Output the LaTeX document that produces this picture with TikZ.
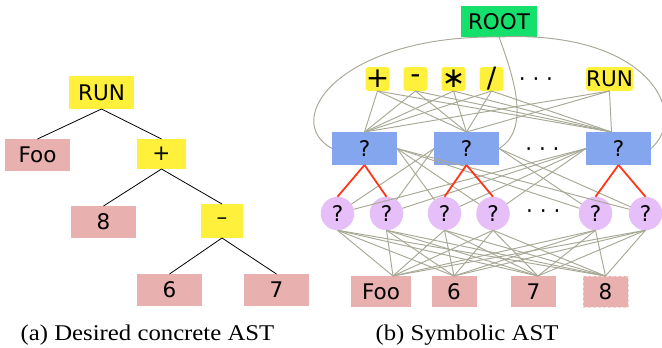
\documentclass[tikz,border=0pt]{standalone}
\usepackage{fontspec}
\setmainfont{DejaVu Sans}
\newfontfamily\capfont{Liberation Serif}[FakeStretch=1.1]
\newcommand\mynfont{\fontsize{21.5}{25}\selectfont}
\newcommand\myopfont{\fontsize{28}{32}\selectfont}
\newcommand\mycapfont{\capfont\fontsize{22.5}{26}\selectfont}
\definecolor{cyel}{RGB}{255,240,60}
\definecolor{cpink}{RGB}{233,176,176}
\definecolor{cblue}{RGB}{132,166,238}
\definecolor{cpurp}{RGB}{230,190,248}
\definecolor{cgreen}{RGB}{22,224,108}
\definecolor{cgray}{RGB}{168,168,150}
\definecolor{cred}{RGB}{255,55,25}
\tikzset{
  nbase/.style={inner sep=0pt, outer sep=0pt, font=\mynfont},
  yelbox/.style={nbase, fill=cyel},
  pnkbox/.style={nbase, fill=cpink},
  blubox/.style={nbase, fill=cblue, minimum width=65pt, minimum height=33pt},
  cirnode/.style={nbase, circle, fill=cpurp, minimum size=33.5pt},
  opbox/.style={nbase, fill=cyel, rounded corners=3pt, minimum width=24pt, minimum height=24pt, font=\myopfont},
  treeedge/.style={black, line width=0.8pt},
  linkedge/.style={cgray, line width=0.95pt},
  pickedge/.style={cred, line width=1.8pt},
  dotnode/.style={nbase, anchor=base},
  capnode/.style={inner sep=0pt, anchor=base, font=\mycapfont}
}
\begin{document}
\begin{tikzpicture}[x=1pt,y=-1pt]
\useasboundingbox (0,0) rectangle (662,348);
% ---------- (a) concrete AST ----------
\node[yelbox, minimum width=65pt, minimum height=33pt] (lrun) at (101.5,92.5) {RUN};
\node[pnkbox, minimum width=65pt, minimum height=32pt] (lfoo) at (37.5,155) {Foo};
\node[yelbox, minimum width=49pt, minimum height=30pt] (lplus) at (161.5,154) {+};
\node[pnkbox, minimum width=65pt, minimum height=32pt] (leight) at (103.5,222) {8};
\node[yelbox, minimum width=42pt, minimum height=34pt] (lminus) at (222,221) {–};
\node[pnkbox, minimum width=65pt, minimum height=32pt] (lsix) at (169.5,290) {6};
\node[pnkbox, minimum width=65pt, minimum height=32pt] (lseven) at (276.5,290) {7};
\draw[treeedge] (lrun.south) -- (lfoo.north);
\draw[treeedge] (lrun.south) -- (lplus.north);
\draw[treeedge] (lplus.south) -- (leight.north);
\draw[treeedge] (lplus.south) -- (lminus.north);
\draw[treeedge] (lminus.south) -- (lsix.north);
\draw[treeedge] (lminus.south) -- (lseven.north);
% ---------- (b) symbolic AST ----------
\node[nbase, fill=cgreen, minimum width=76pt, minimum height=31pt] (root) at (499,21.5) {ROOT};
\node[opbox] (oplus) at (377.5,79) {+};
\node[opbox] (ominus) at (415.5,79) {-};
\node[opbox] (otimes) at (453.5,79) {∗};
\node[opbox] (odiv) at (491.5,79) {/};
\node[dotnode] (odots) at (536,86.7) {· · ·};
\node[opbox, minimum width=47pt, font=\mynfont] (orun) at (609.5,79) {RUN};
\node[blubox] (b1) at (364.5,148.5) {?};
\node[blubox] (b2) at (466.5,148.5) {?};
\node[dotnode] (bdots) at (542.5,156.7) {· · ·};
\node[blubox] (b3) at (618.5,148.5) {?};
\node[cirnode] (c1) at (337.5,213.5) {?};
\node[cirnode] (c2) at (386.5,213.5) {?};
\node[cirnode] (c3) at (444.5,213.5) {?};
\node[cirnode] (c4) at (493,213.5) {?};
\node[dotnode] (cdots) at (543.3,218.4) {· · ·};
\node[cirnode] (c5) at (595.5,213.5) {?};
\node[cirnode] (c6) at (645.5,213.5) {?};
\node[pnkbox, minimum width=60pt, minimum height=31pt] (tfoo) at (381,291.5) {Foo};
\node[pnkbox, minimum width=45pt, minimum height=31pt] (tsix) at (454,291.5) {6};
\node[pnkbox, minimum width=45pt, minimum height=31pt] (tseven) at (533.5,291.5) {7};
\node[pnkbox, minimum width=45pt, minimum height=31pt, draw={rgb,255:red,246;green,214;blue,214}, densely dashed, line width=0.6pt] (teight) at (605.5,291.5) {8};
% root links
\draw[linkedge] (root.south) .. controls (340,35) and (280,120) .. (b1.west);
\draw[linkedge] (root.south) .. controls (515,80) and (530,130) .. (b2.east);
\draw[linkedge] (root.south) .. controls (650,30) and (690,115) .. (b3.east);
% operator links
\foreach \o in {oplus,ominus,otimes,odiv,orun}{
  \draw[linkedge] (\o.south) -- (b1.north);
  \draw[linkedge] (\o.south) -- (b2.north);
  \draw[linkedge] (\o.south) -- ([xshift=-7pt]b3.north);
}
% symbolic node to child links
\foreach \c in {c3,c4,c5,c6}{\draw[linkedge] (b1.east) -- (\c);}
\foreach \c in {c1,c2}{\draw[linkedge] (b2.west) -- (\c);}
\foreach \c in {c5,c6}{\draw[linkedge] (b2.east) -- (\c);}
\foreach \c in {c1,c2,c3,c4}{\draw[linkedge] (b3.west) -- (\c);}
\draw[pickedge] (b1.south) -- (c1.north);
\draw[pickedge] (b1.south) -- (c2.north);
\draw[pickedge] (b2.south) -- (c3.north);
\draw[pickedge] (b2.south) -- (c4.north);
\draw[pickedge] (b3.south) -- (c5.north);
\draw[pickedge] (b3.south) -- (c6.north);
% children to leaves
\foreach \c in {c1,c2,c3,c4,c5,c6}{
  \draw[linkedge] (\c.south) -- ([xshift=12pt]tfoo.north);
  \draw[linkedge] (\c.south) -- (tsix.north);
  \draw[linkedge] (\c.south) -- ([xshift=4.5pt]tseven.north);
  \draw[linkedge] (\c.south) -- (teight.north);
}
% captions
\node[capnode] (capa) at (147.5,340) {(a) Desired concrete AST};
\node[capnode] (capb) at (467,340) {(b) Symbolic AST};
\end{tikzpicture}
\end{document}
